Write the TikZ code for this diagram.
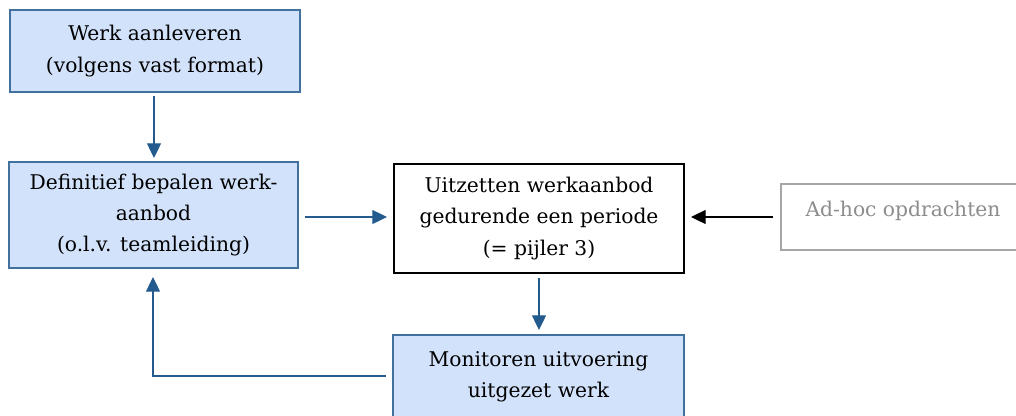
\documentclass[tikz,border=0pt]{standalone}
\usepackage{fontspec}
\setmainfont{DejaVu Serif}
\usetikzlibrary{arrows.meta}
\definecolor{boxfill}{HTML}{D2E2FB}
\definecolor{boxline}{HTML}{41719C}
\definecolor{arrowblue}{HTML}{235B8E}
\definecolor{grayline}{HTML}{A6A6A6}
\definecolor{graytext}{HTML}{8C8C8C}
\tikzset{
  boxfont/.style={font=\fontsize{15.2}{23.5}\selectfont},
  bluebox/.style={draw=boxline, fill=boxfill, line width=0.8pt, align=center, inner sep=0pt, boxfont},
  whitebox/.style={draw=black, line width=0.8pt, align=center, inner sep=0pt, boxfont},
  graybox/.style={draw=grayline, line width=0.8pt, inner sep=0pt},
  bluearrow/.style={draw=arrowblue, line width=0.9pt, -{Triangle[length=11pt,width=10.5pt]}},
  blackarrow/.style={draw=black, line width=0.9pt, -{Triangle[length=11pt,width=10.5pt]}},
}
\begin{document}
\begin{tikzpicture}[x=0.75pt,y=-0.75pt]
\useasboundingbox (0,0) rectangle (1016,415);
\begin{scope}
\clip (0,0) rectangle (1016,415);
\node[bluebox, minimum width=290*0.75pt, minimum height=82*0.75pt] (lever) at (155,51) {Werk aanleveren\\(volgens vast format)};
\node[bluebox, minimum width=289*0.75pt, minimum height=106*0.75pt] (bepaal) at (153.5,215) {Definitief bepalen werk-\\aanbod\\(o.l.v. teamleiding)};
\node[whitebox, minimum width=290*0.75pt, minimum height=109*0.75pt] (uitzet) at (539,218.5) {Uitzetten werkaanbod\\gedurende een periode\\(= pijler 3)};
\node[graybox, minimum width=250*0.75pt, minimum height=66*0.75pt] (adhoc) at (906,217) {};
\node[text=graytext, boxfont] (adhoctxt) at (903,211) {Ad-hoc opdrachten};
\node[bluebox, minimum width=291*0.75pt, minimum height=84*0.75pt] (monitor) at (538.5,377) {Monitoren uitvoering\\uitgezet werk};
\end{scope}
\coordinate (a1s) at (154,96);
\coordinate (a1e) at (154,158);
\draw[bluearrow] (a1s) -- (a1e);
\coordinate (a2s) at (305,217);
\coordinate (a2e) at (387,217);
\draw[bluearrow] (a2s) -- (a2e);
\coordinate (a3s) at (773,217);
\coordinate (a3e) at (691,217);
\draw[blackarrow] (a3s) -- (a3e);
\coordinate (a4s) at (539,278);
\coordinate (a4e) at (539,330);
\draw[bluearrow] (a4s) -- (a4e);
\coordinate (a5s) at (386,376);
\coordinate (a5c) at (153,376);
\coordinate (a5e) at (153,277);
\draw[bluearrow] (a5s) -- (a5c) -- (a5e);
\end{tikzpicture}
\end{document}
